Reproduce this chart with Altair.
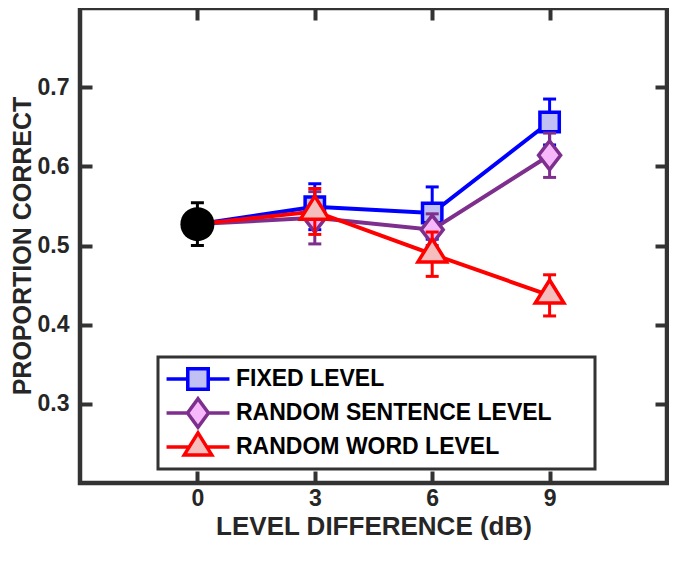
import altair as alt
import pandas as pd

# ---------------- data ----------------
levels = [3, 6, 9]
base_level = 0
base_mean = 0.527
base_err = 0.027

series_names = ["FIXED LEVEL", "RANDOM SENTENCE LEVEL", "RANDOM WORD LEVEL"]
fixed_mean = [0.549, 0.541, 0.656]
fixed_err = [0.029, 0.033, 0.029]
sentence_mean = [0.535, 0.520, 0.614]
sentence_err = [0.033, 0.020, 0.028]
word_mean = [0.543, 0.489, 0.437]
word_err = [0.029, 0.028, 0.026]

x_ticks = [0, 3, 6, 9]
y_ticks = [0.3, 0.4, 0.5, 0.6, 0.7]
x_domain = [-3, 12]
y_domain = [0.2, 0.8]

# ---------------- style ----------------
FONT = "Liberation Sans"
TXT = "#262626"
FRAME = "#333333"
line_colors = ["#0000FF", "#7E2F8E", "#FF0000"]
fill_colors = ["#C0C0F4", "#F7B7FB", "#F6BDBD"]

# plot markers (size 484 -> 11 px per path unit)
marker_paths = [
    "M-0.88,-0.88 L0.88,-0.88 L0.88,0.88 L-0.88,0.88 Z",
    "M0,-1.3 L1,0 L0,1.3 L-1,0 Z",
    "M0,-1.4 L1.3,0.7 L-1.3,0.7 Z",
]
# legend symbols (same 11 px unit): line wings + marker
legend_paths = [
    "M-2.86,0 L-0.93,0 M0.93,0 L2.86,0 "
    "M-0.93,-0.93 L0.93,-0.93 L0.93,0.93 L-0.93,0.93 Z",
    "M-2.86,0 L-0.95,0 M0.95,0 L2.86,0 "
    "M0,-1.3 L0.95,0 L0,1.3 L-0.95,0 Z",
    "M-2.86,0 L-0.8,0 M0.8,0 L2.86,0 "
    "M0,-1.28 L1.25,0.72 L-1.25,0.72 Z",
]

# ---------------- tables ----------------
means = [fixed_mean, sentence_mean, word_mean]
errs = [fixed_err, sentence_err, word_err]
rows = []
for name, m, e in zip(series_names, means, errs):
    rows.append({"series": name, "level": base_level, "mean": base_mean, "err": 0.0, "kind": "base"})
    for lv, mv, ev in zip(levels, m, e):
        rows.append({"series": name, "level": lv, "mean": mv, "err": ev, "kind": "pt"})
df = pd.DataFrame(rows)
df["lo"] = df["mean"] - df["err"]
df["hi"] = df["mean"] + df["err"]

base_df = pd.DataFrame({"level": [base_level], "mean": [base_mean],
                        "lo": [base_mean - base_err], "hi": [base_mean + base_err]})

xs = alt.Scale(domain=x_domain, nice=False, zero=False)
ys = alt.Scale(domain=y_domain, nice=False, zero=False)

tick_common = dict(offset=-12, tickSize=12, tickWidth=4, tickColor=FRAME,
                   domain=False, grid=False)
ax_bottom = alt.Axis(orient="bottom", values=x_ticks, format="d",
                     title="LEVEL DIFFERENCE (dB)", labelPadding=4,
                     labelFontSize=23, labelFontWeight="bold", labelColor=TXT, labelFont=FONT,
                     titleFontSize=26, titleFontWeight="bold", titleColor=TXT, titleFont=FONT,
                     titlePadding=3, **tick_common)
ax_top = alt.Axis(orient="top", values=x_ticks, labels=False, title=None, **tick_common)
ax_left = alt.Axis(orient="left", values=y_ticks, format=".1f",
                   title="PROPORTION CORRECT", labelPadding=11,
                   labelFontSize=23, labelFontWeight="bold", labelColor=TXT, labelFont=FONT,
                   titleFontSize=25, titleFontWeight="bold", titleColor=TXT, titleFont=FONT,
                   titlePadding=2, **tick_common)
ax_right = alt.Axis(orient="right", values=y_ticks, labels=False, title=None, **tick_common)

layers = []

# axes carrier layers (invisible points)
layers.append(
    alt.Chart(base_df).mark_point(opacity=0).encode(
        x=alt.X("level:Q", scale=xs, axis=ax_bottom),
        y=alt.Y("mean:Q", scale=ys, axis=ax_left),
    )
)
layers.append(
    alt.Chart(base_df).mark_point(opacity=0).encode(
        x=alt.X("level:Q", scale=xs, axis=ax_top),
        y=alt.Y("mean:Q", scale=ys, axis=ax_right),
    )
)

for i, name in enumerate(series_names):
    sub = alt.Chart(df).transform_filter(alt.datum.series == name)
    col = line_colors[i]
    layers.append(
        sub.mark_line(color=col, strokeWidth=4).encode(
            x=alt.X("level:Q", scale=xs, axis=None),
            y=alt.Y("mean:Q", scale=ys, axis=None),
            order="level:Q",
        )
    )
    pts = sub.transform_filter(alt.datum.kind == "pt")
    layers.append(
        pts.mark_rule(color=col, strokeWidth=3).encode(
            x=alt.X("level:Q", scale=xs, axis=None),
            y=alt.Y("lo:Q", scale=ys, axis=None),
            y2="hi:Q",
        )
    )
    for fld in ["lo", "hi"]:
        layers.append(
            pts.mark_tick(color=col, orient="horizontal", size=13, thickness=3, opacity=1).encode(
                x=alt.X("level:Q", scale=xs, axis=None),
                y=alt.Y(f"{fld}:Q", scale=ys, axis=None),
            )
        )
    layers.append(
        pts.mark_point(shape=marker_paths[i], size=484, filled=False, stroke=col,
                       fill=fill_colors[i], strokeWidth=3.5, opacity=1, fillOpacity=1).encode(
            x=alt.X("level:Q", scale=xs, axis=None),
            y=alt.Y("mean:Q", scale=ys, axis=None),
        )
    )

# baseline (0 dB) point
bsel = alt.Chart(base_df)
layers.append(
    bsel.mark_rule(color="black", strokeWidth=3).encode(
        x=alt.X("level:Q", scale=xs, axis=None),
        y=alt.Y("lo:Q", scale=ys, axis=None), y2="hi:Q")
)
for fld in ["lo", "hi"]:
    layers.append(
        bsel.mark_tick(color="black", orient="horizontal", size=13, thickness=3, opacity=1).encode(
            x=alt.X("level:Q", scale=xs, axis=None),
            y=alt.Y(f"{fld}:Q", scale=ys, axis=None))
    )
layers.append(
    bsel.mark_point(shape="circle", size=1156, filled=True, color="black", opacity=1).encode(
        x=alt.X("level:Q", scale=xs, axis=None),
        y=alt.Y("mean:Q", scale=ys, axis=None))
)

# legend carrier layer (no rows drawn); non-breaking spaces + zero-width
# space widen the legend box like the reference
PAD = "\u00a0" * 6 + "\u200b"
leg = alt.Legend(title=None, orient="none", legendX=78, legendY=349, padding=5,
                 symbolOffset=22, labelOffset=25, labelLimit=800, rowPadding=0,
                 clipHeight=34,
                 labelFontSize=23, labelFont=FONT, labelFontWeight="bold", labelColor="black",
                 symbolStrokeWidth=3.5, symbolSize=484, strokeColor=FRAME, fillColor="white",
                 labelExpr=f"datum.label + '{PAD}'")
layers.append(
    alt.Chart(df).mark_point(size=484, strokeWidth=3.5, opacity=1, fillOpacity=1).encode(
        x=alt.X("level:Q", scale=xs, axis=None),
        y=alt.Y("mean:Q", scale=ys, axis=None),
        stroke=alt.Stroke("series:N", scale=alt.Scale(domain=series_names, range=line_colors), legend=leg),
        fill=alt.Fill("series:N", scale=alt.Scale(domain=series_names, range=fill_colors), legend=leg),
        shape=alt.Shape("series:N", scale=alt.Scale(domain=series_names, range=legend_paths), legend=leg),
    ).transform_filter("datum.level > 100")
)

chart = alt.layer(*layers).resolve_axis(x="independent", y="independent").properties(
    width=587, height=475,
    autosize=alt.AutoSizeParams(type="none"),
    padding={"left": 72, "top": 0, "right": 2, "bottom": 70},
).configure(font=FONT).configure_view(stroke=FRAME, strokeWidth=4.5).configure_legend(strokeWidth=3)

chart.save("out.html", embed_options={"renderer": "svg", "actions": False})
